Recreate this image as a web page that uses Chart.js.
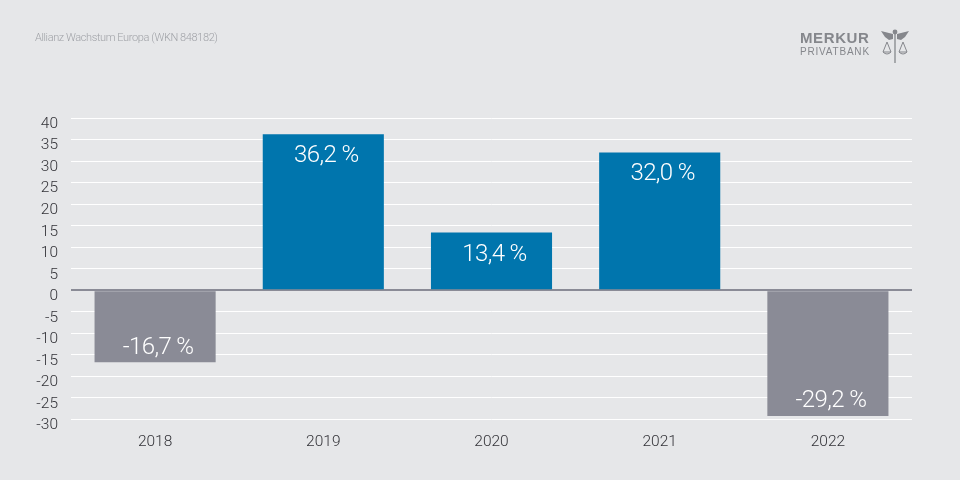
<!DOCTYPE html>
<html>
<head>
<meta charset="utf-8">
<script src="https://cdn.jsdelivr.net/npm/chart.js@4"></script>
<style>
html,body{margin:0;padding:0;background:#e6e7e9;}
#wrap{position:relative;width:960px;height:480px;overflow:hidden;}
#salesChart{position:absolute;left:0;top:0;}
#source{position:absolute;left:35px;top:31px;font:300 11px Roboto,"Liberation Sans",sans-serif;letter-spacing:-.4px;color:#a0a2a7;}
#brand{position:absolute;left:800px;top:29px;font:700 15px "Liberation Sans",sans-serif;color:#85878c;letter-spacing:.6px;}
#bank{position:absolute;left:800px;top:46px;font:400 10px "Liberation Sans",sans-serif;color:#85878c;letter-spacing:.8px;}
#logo{position:absolute;left:878px;top:28px;}
</style>
</head>
<body>
<div id="wrap">
<canvas id="salesChart" width="960" height="480"></canvas>
<div id="source">Allianz Wachstum Europa (WKN 848182)</div>
<div id="brand">MERKUR</div>
<div id="bank">PRIVATBANK</div>
<svg id="logo" width="34" height="38" viewBox="0 0 34 38" fill="none" stroke="#85878c">
<path d="M3 3 L15 6 L15 11 L11 12 L7 9 Z M31 3 L19 6 L19 11 L23 12 L27 9 Z" fill="#85878c" stroke="none"/>
<circle cx="17" cy="4" r="2.4" fill="#85878c" stroke="none"/>
<path d="M17 5 V35" stroke-width="1.3"/>
<path d="M9 14 L5 24 H13 Z M25 14 L21 24 H29 Z" stroke-width="1"/>
<path d="M5 24 Q9 28 13 24 M21 24 Q25 28 29 24" stroke-width="1"/>
</svg>
</div>
<script>
// CHART DATA

const years = ["2018","2019","2020","2021","2022"];
const returns = [-16.7,36.2,13.4,32.0,-29.2];
const returnLabels = ["-16,7 %","36,2 %","13,4 %","32,0 %","-29,2 %"];

const blue = "#0075ad";
const grey = "#8a8b96";
const tickFont = {family:"Roboto, 'Liberation Sans', sans-serif",size:15.5,weight:"300"};

// VALUE LABELS INSIDE THE BARS

const valueLabels = {
id:"valueLabels",
afterDatasetsDraw(chart){
const ctx = chart.ctx;
const bars = chart.getDatasetMeta(0).data;
ctx.save();
ctx.fillStyle = "#ffffff";
ctx.font = "300 24px Roboto, 'Liberation Sans', sans-serif";
ctx.letterSpacing = "-0.6px";
ctx.textAlign = "center";
ctx.textBaseline = "middle";
bars.forEach((bar,i)=>{
const y = returns[i] < 0 ? bar.y - 14.5 : bar.y + 22;
ctx.fillText(returnLabels[i],bar.x + 3,y);
});
ctx.restore();
}
};

new Chart(document.getElementById("salesChart"),{

type:"bar",

data:{
labels:years,
datasets:[{
data:returns,
backgroundColor:returns.map(v=>v < 0 ? grey : blue),
barPercentage:0.72,
categoryPercentage:1
}]
},

options:{
responsive:false,
animation:false,
layout:{padding:{left:0,right:48,top:118,bottom:24}},
plugins:{legend:{display:false},tooltip:{enabled:false}},
scales:{
x:{
grid:{display:false},
border:{display:false},
ticks:{color:"#333338",font:tickFont,padding:5,maxRotation:0}
},
y:{
min:-30,
max:40,
afterFit(scale){scale.width = 71;},
grid:{
drawTicks:false,
color:ctx=>ctx.tick.value === 0 ? grey : "#ffffff",
lineWidth:ctx=>ctx.tick.value === 0 ? 2 : 1
},
border:{display:false},
ticks:{stepSize:5,autoSkip:false,color:"#333338",font:tickFont,padding:13,labelOffset:6}
}
}
},

plugins:[valueLabels]

});
</script>
</body>
</html>
